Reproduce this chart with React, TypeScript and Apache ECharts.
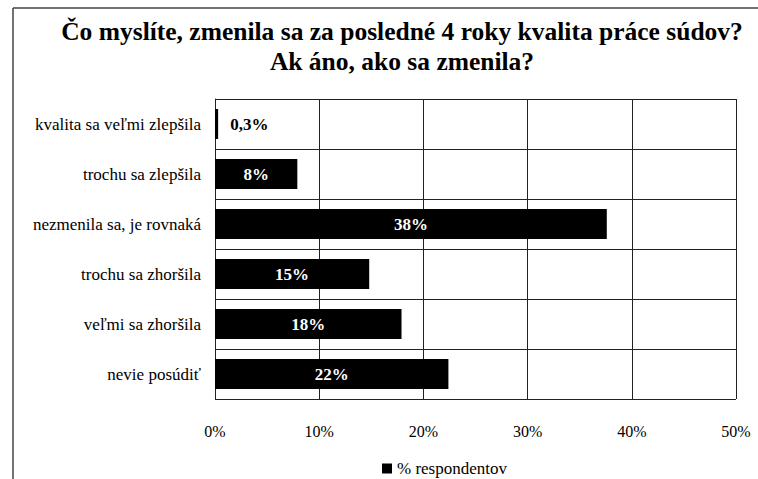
import React, { useEffect, useRef } from "react";
import * as echarts from "echarts";

const categories = [
  "kvalita sa veľmi zlepšila",
  "trochu sa zlepšila",
  "nezmenila sa, je rovnaká",
  "trochu sa zhoršila",
  "veľmi sa zhoršila",
  "nevie posúdiť",
];
const values = [0.3, 7.9, 37.6, 14.8, 17.9, 22.4];
const valueLabels = ["0,3%", "8%", "38%", "15%", "18%", "22%"];
const xTicks = [0, 10, 20, 30, 40, 50];
const seriesName = "% respondentov";
const titleText = "Čo myslíte, zmenila sa za posledné 4 roky kvalita práce súdov?\nAk áno, ako sa zmenila?";

const SERIF = "Liberation Serif";

export default function App() {
  const ref = useRef<HTMLDivElement>(null);
  useEffect(() => {
    if (!ref.current) return;
    const chart = echarts.init(ref.current, undefined, { renderer: "svg" });
    chart.setOption({
      animation: false,
      backgroundColor: "#ffffff",
      title: {
        text: titleText,
        left: 397,
        textAlign: "center",
        top: 11,
        textStyle: {
          fontFamily: SERIF,
          fontWeight: "bold",
          fontSize: 25.5,
          lineHeight: 30,
          color: "#000",
        },
      },
      legend: {
        data: [{ name: seriesName, icon: "rect" }],
        left: 377,
        top: 455,
        itemWidth: 10,
        itemHeight: 10,
        itemGap: 6,
        textStyle: { fontFamily: SERIF, fontSize: 17, color: "#000" },
      },
      graphic: [
        { type: "line", shape: { x1: 13, y1: 8, x2: 758, y2: 8 }, style: { stroke: "#444", lineWidth: 1.5 } },
        { type: "line", shape: { x1: 13, y1: 8, x2: 13, y2: 479 }, style: { stroke: "#444", lineWidth: 1.5 } },
      ],
      grid: { left: 215, right: 22, top: 99, bottom: 80, containLabel: false },
      xAxis: {
        type: "value",
        min: 0,
        max: 50,
        interval: 10,
        axisLine: { show: false },
        axisTick: { show: false },
        axisLabel: {
          margin: 24,
          fontFamily: SERIF,
          fontSize: 16,
          color: "#000",
          formatter: (v: number) => (xTicks.includes(v) ? v + "%" : ""),
        },
        splitLine: { show: true, lineStyle: { color: "#222", width: 1 } },
      },
      yAxis: {
        type: "category",
        data: categories,
        inverse: true,
        axisLine: { show: true, lineStyle: { color: "#222", width: 1 } },
        axisTick: { show: false },
        axisLabel: { margin: 14, fontFamily: SERIF, fontSize: 17, color: "#000" },
        splitLine: { show: true, lineStyle: { color: "#222", width: 1 } },
      },
      series: [
        {
          name: seriesName,
          type: "bar",
          data: values.map((v, i) => ({
            value: v,
            label:
              i === 0
                ? { show: true, position: "right", distance: 12, color: "#000" }
                : { show: true, position: "inside", color: "#fff" },
          })),
          barCategoryGap: "40%",
          itemStyle: { color: "#000" },
          label: {
            show: true,
            fontFamily: SERIF,
            fontWeight: "bold",
            fontSize: 17,
            formatter: (p: any) => valueLabels[p.dataIndex],
          },
        },
      ],
    });
    return () => chart.dispose();
  }, []);
  return (
    <div
      ref={ref}
      style={{ position: "absolute", left: 0, top: 0, width: 758, height: 479 }}
    />
  );
}
